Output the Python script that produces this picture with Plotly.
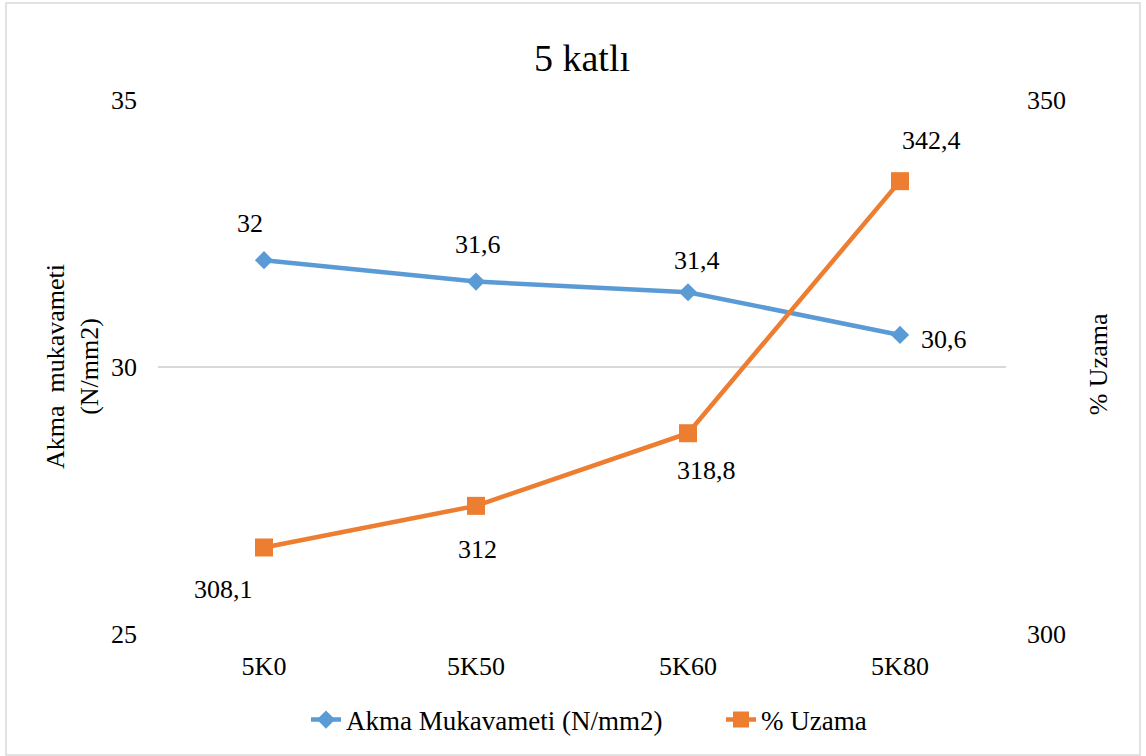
import plotly.graph_objects as go

# Data
categories = ["5K0", "5K50", "5K60", "5K80"]
akma = [32, 31.6, 31.4, 30.6]          # Akma Mukavameti (N/mm2), left axis
uzama = [308.1, 312, 318.8, 342.4]     # % Uzama, right axis
left_ticks = [25, 30, 35]
right_ticks = [300, 350]

# label offsets in pixels (dx, dy) relative to each marker
akma_label_off = [(-14, -37), (2, -37), (9, -32), (44, 5)]
uzama_label_off = [(-41, 42), (1, 44), (18, 37), (31, -41)]

BLUE = "#5B9BD5"
ORANGE = "#ED7D31"
GRID = "#D9D9D9"
SERIF = "Liberation Serif, Times New Roman, serif"


def fmt(v):
    s = f"{v:g}"
    return s.replace(".", ",")


fig = go.Figure()
fig.add_trace(go.Scatter(
    x=categories, y=akma, name="Akma Mukavameti (N/mm2)",
    mode="lines+markers",
    line=dict(color=BLUE, width=4.5),
    marker=dict(symbol="diamond", size=14, color=BLUE),
    yaxis="y",
))
fig.add_trace(go.Scatter(
    x=categories, y=uzama, name="% Uzama",
    mode="lines+markers",
    line=dict(color=ORANGE, width=4.5),
    marker=dict(symbol="square", size=18, color=ORANGE),
    yaxis="y2",
))

annotations = []
for i, (c, v) in enumerate(zip(categories, akma)):
    dx, dy = akma_label_off[i]
    annotations.append(dict(
        x=c, y=v, xref="x", yref="y", text=fmt(v), showarrow=False,
        xshift=dx, yshift=-dy, font=dict(family=SERIF, size=26, color="black"),
        xanchor="center", yanchor="middle",
    ))
for i, (c, v) in enumerate(zip(categories, uzama)):
    dx, dy = uzama_label_off[i]
    annotations.append(dict(
        x=c, y=v, xref="x", yref="y2", text=fmt(v), showarrow=False,
        xshift=dx, yshift=-dy, font=dict(family=SERIF, size=26, color="black"),
        xanchor="center", yanchor="middle",
    ))

# axis titles
annotations.append(dict(
    x=-0.1014, y=0.5, xref="paper", yref="paper",
    text="Akma\u00a0 mukavameti<br>(N/mm2)", textangle=-90, showarrow=False,
    font=dict(family=SERIF, size=26, color="black"),
    xanchor="center", yanchor="middle",
))
annotations.append(dict(
    x=1.1085, y=0.505, xref="paper", yref="paper",
    text="% Uzama", textangle=-90, showarrow=False,
    font=dict(family=SERIF, size=26, color="black"),
    xanchor="center", yanchor="middle",
))

fig.update_layout(
    width=1146, height=756,
    margin=dict(l=158, r=140, t=100, b=122),
    paper_bgcolor="white", plot_bgcolor="white",
    font=dict(family=SERIF, size=26, color="black"),
    title=dict(text="5 katlı", x=0.5, xref="paper", xanchor="center",
               y=1 - 58 / 756, yref="container", yanchor="middle",
               font=dict(family=SERIF, size=38, color="black")),
    xaxis=dict(
        type="category", range=[-0.5, 3.5],
        showgrid=False, zeroline=False, showline=False,
        ticks="", ticklabelstandoff=14,
        tickfont=dict(family=SERIF, size=26, color="black"),
    ),
    yaxis=dict(
        range=[25, 35], tickvals=left_ticks,
        showgrid=True, gridcolor=GRID, gridwidth=1.5,
        zeroline=False, showline=False, ticks="",
        ticklabelstandoff=20,
        tickfont=dict(family=SERIF, size=26, color="black"),
    ),
    yaxis2=dict(
        range=[300, 350], tickvals=right_ticks,
        overlaying="y", side="right",
        showgrid=False, zeroline=False, showline=False, ticks="",
        ticklabelstandoff=20,
        tickfont=dict(family=SERIF, size=26, color="black"),
    ),
    legend=dict(
        orientation="h", xref="container", x=306 / 1146, xanchor="left",
        yref="container", y=36 / 756, yanchor="middle",
        font=dict(family=SERIF, size=27, color="black"),
        bgcolor="rgba(0,0,0,0)",
        entrywidth=370, entrywidthmode="pixels",
        tracegroupgap=0,
    ),
    annotations=annotations,
    showlegend=True,
)

# chart border
fig.add_shape(
    type="rect", xref="paper", yref="paper",
    x0=(6 - 158) / 848, x1=(1140 - 158) / 848,
    y0=(634 - 755) / 534, y1=(634 - 3) / 534,
    line=dict(color=GRID, width=1.5), fillcolor="rgba(0,0,0,0)",
    layer="below",
)

fig.write_html("out.html")
